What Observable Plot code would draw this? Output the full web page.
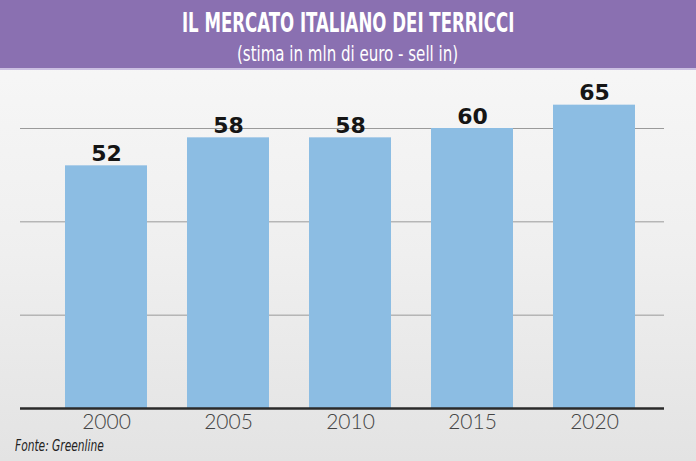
<!DOCTYPE html>
<html>
<head>
<meta charset="utf-8">
<script src="https://cdn.jsdelivr.net/npm/d3@7"></script>
<script src="https://cdn.jsdelivr.net/npm/@observablehq/plot@0.6"></script>
<style>
  html, body { margin: 0; padding: 0; }
  body {
    width: 696px; height: 461px; overflow: hidden;
    background: linear-gradient(to bottom, #f9f9f9 0%, #efefef 55%, #e3e3e3 100%);
    font-family: "DejaVu Sans Condensed", "Roboto", sans-serif;
  }
  #header {
    height: 68px; background: #8a70b1; border-bottom: 2px solid #cbbfe2;
    color: #fff; text-align: center;
  }
  #title { font-size: 26px; font-weight: bold; padding-top: 9px; line-height: 28px; }
  #title span { display: inline-block; transform: scaleX(0.71); transform-origin: center; white-space: nowrap; }
  #subtitle { font-size: 22px; line-height: 26px; padding-top: 4px; }
  #subtitle span { display: inline-block; transform: scaleX(0.76); transform-origin: center; white-space: nowrap; }
  #chart svg { display: block; background: transparent; }
  #caption { font-size: 16px; font-style: italic; color: #222; padding-left: 15px; margin-top: 3px; line-height: 20px; }
  #caption span { display: inline-block; transform: scaleX(0.74); transform-origin: left; white-space: nowrap; }
</style>
</head>
<body>
<div id="header">
  <div id="title"><span>IL MERCATO ITALIANO DEI TERRICCI</span></div>
  <div id="subtitle"><span>(stima in mln di euro - sell in)</span></div>
</div>
<div id="chart"></div>
<div id="caption"><span>Fonte: Greenline</span></div>
<script>
const years = ["2000", "2005", "2010", "2015", "2020"];
const values = [52, 58, 58, 60, 65];
const gridTicks = [20, 40, 60];

const data = years.map((y, i) => ({year: y, value: values[i]}));

const chart = Plot.plot({
  width: 696,
  height: 363,
  marginLeft: 20,
  marginRight: 32,
  marginTop: 10,
  marginBottom: 25,
  style: {background: "transparent", overflow: "visible"},
  x: {domain: years, range: [45, 655], paddingInner: 0.33, paddingOuter: 0.165, label: null},
  y: {domain: [0, 60], range: [338, 58], label: null},
  marks: [
    Plot.ruleY(gridTicks, {stroke: "#9a9a9a", strokeWidth: 1, strokeOpacity: 1}),
    Plot.barY(data, {x: "year", y: "value", fill: "#8cbde3"}),
    Plot.ruleY([0], {stroke: "#2a2a2a", strokeWidth: 2.5}),
    Plot.text(data, {x: "year", y: "value", text: d => String(d.value), dy: -5, lineAnchor: "bottom",
      fontSize: 22, fontWeight: "bold", fill: "#151515", fontFamily: "DejaVu Sans"}),
    Plot.axisX({tickSize: 0, tickPadding: 6, fontSize: 21, fill: "#444", fontFamily: "Lato", fontWeight: 300, label: null}),
    Plot.axisY({ticks: [], label: null})
  ]
});
document.getElementById("chart").appendChild(chart);
</script>
</body>
</html>
